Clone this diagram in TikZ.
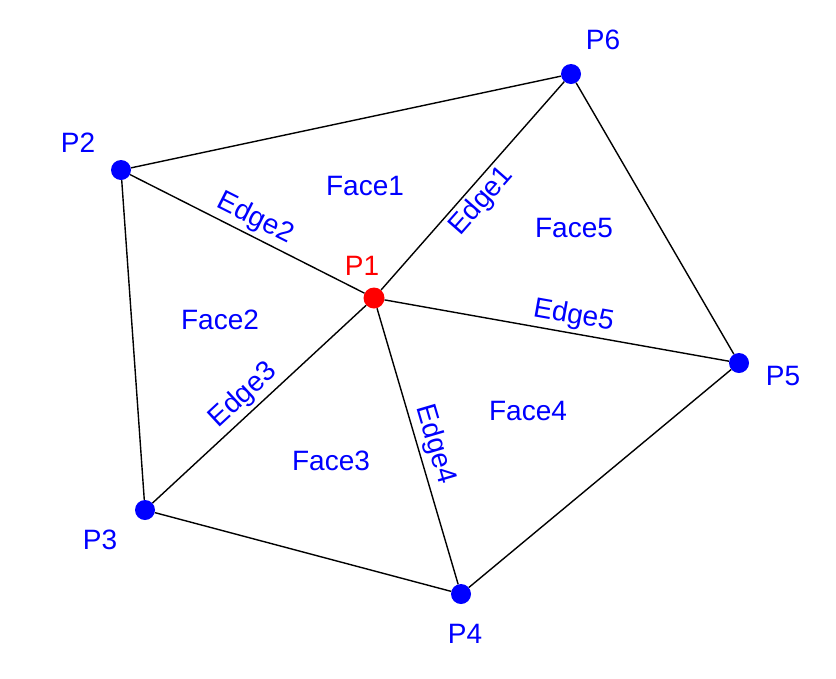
\documentclass[tikz,border=0pt]{standalone}
\usepackage{fontspec}
\setmainfont{Liberation Sans}
\begin{document}
\begin{tikzpicture}[x=1pt, y=-1pt,
    vtx/.style={circle, fill=blue, inner sep=0pt, minimum size=20pt},
    ctr/.style={vtx, fill=red, minimum size=21pt},
    lbl/.style={text=blue, inner sep=0pt, font=\fontsize{28}{32}\selectfont},
    edg/.style={black, line width=1.4pt},
    elbl/.style={lbl, sloped, inner sep=3.5pt}
]
    \useasboundingbox (0,0) rectangle (836,678);
    % points
    \node[ctr] (p1) at (374,298) {};
    \node[vtx] (p2) at (121,170) {};
    \node[vtx] (p3) at (145,510) {};
    \node[vtx] (p4) at (461,594) {};
    \node[vtx] (p5) at (739,363) {};
    \node[vtx] (p6) at (571,74) {};

    % point labels
    \node[lbl, text=red] (l1) at (362,266) {P1};
    \node[lbl] (l2) at (78,143) {P2};
    \node[lbl] (l3) at (100,540) {P3};
    \node[lbl] (l4) at (465,634) {P4};
    \node[lbl] (l5) at (783,376) {P5};
    \node[lbl] (l6) at (603,40) {P6};

    % outer boundary
    \draw[edg] (p2) -- (p6) -- (p5) -- (p4) -- (p3) -- (p2);

    % spokes
    \draw[edg] (p1) -- (p6) node[elbl, pos=0.48, below] (e1) {Edge1};
    \draw[edg] (p2) -- (p1) node[elbl, midway, above] (e2) {Edge2};
    \draw[edg] (p3) -- (p1) node[elbl, pos=0.48, above] (e3) {Edge3};
    \draw[edg] (p1) -- (p4) node[elbl, pos=0.51, above] (e4) {Edge4};
    \draw[edg] (p1) -- (p5) node[elbl, pos=0.54, above] (e5) {Edge5};

    % faces
    \node[lbl] (f1) at (365,186) {Face1};
    \node[lbl] (f2) at (220,320) {Face2};
    \node[lbl] (f3) at (331,461) {Face3};
    \node[lbl] (f4) at (528,411) {Face4};
    \node[lbl] (f5) at (574,228) {Face5};
\end{tikzpicture}
\end{document}
